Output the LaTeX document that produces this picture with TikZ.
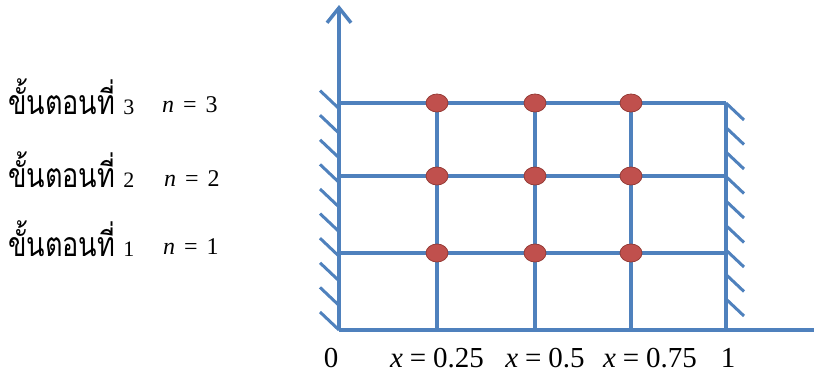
\documentclass[tikz,border=0pt]{standalone}
\usepackage{fontspec}
\setmainfont{Liberation Serif}
\newfontfamily\thaifont[Script=Thai]{Loma}
\usetikzlibrary{arrows.meta,shapes.geometric}
\definecolor{gridblue}{RGB}{79,129,189}
\definecolor{dotred}{RGB}{192,80,77}
\definecolor{dotedge}{RGB}{150,60,55}
\newcommand{\thaistep}[1]{\scalebox{1.04}[1.3]{\thaifont\fontsize{26}{30}\selectfont ขั้นตอนที่}\hspace{8pt}{\fontsize{22}{26}\selectfont #1}}
\newcommand{\eqlab}[3]{{\itshape #1}\hspace{#3}=\hspace{#3}#2}
\begin{document}
\begin{tikzpicture}[x=1pt,y=-1pt,
  gridline/.style={draw=gridblue,line width=3.5pt},
  hatchline/.style={draw=gridblue,line width=3pt},
  griddot/.style={ellipse,fill=dotred,draw=dotedge,line width=0.8pt,minimum width=22pt,minimum height=18pt,inner sep=0pt},
  steplabel/.style={anchor=base west,inner sep=0pt},
  nlabel/.style={anchor=base west,inner sep=0pt,font=\fontsize{24}{28}\selectfont},
  xlabel/.style={anchor=base,inner sep=0pt,font=\fontsize{29}{34}\selectfont}]
\useasboundingbox (0,0) rectangle (814,375);
% axes
\coordinate (O) at (339,330);
\coordinate (ytop) at (339,5);
\coordinate (xend) at (814,330);
\draw[gridline,-{Straight Barb[length=15pt,width=24pt,line width=3.5pt]}] (O) -- (ytop);
\draw[gridline] (O) -- (xend);
% grid
\foreach \r/\yy in {1/253,2/176,3/103}{
  \coordinate (L\r) at (339,\yy);
  \coordinate (R\r) at (726,\yy);
  \draw[gridline] (L\r) -- (R\r);
}
\foreach \c/\xx in {1/437,2/535,3/631,4/726}{
  \coordinate (B\c) at (\xx,330);
  \coordinate (T\c) at (\xx,103);
  \draw[gridline] (B\c) -- (T\c);
}
% walls
\foreach \i in {0,...,9}{
  \coordinate (hl\i) at (339,{330-24.6*\i});
  \draw[hatchline] (hl\i) -- ++(-19,-18);
}
\foreach \i in {0,...,8}{
  \coordinate (hr\i) at (726,{103+24.5*\i});
  \draw[hatchline] (hr\i) -- ++(18,17);
}
% dots
\foreach \c/\xx in {1/437,2/535,3/631}{
  \foreach \r/\yy in {1/253,2/176,3/103}{
    \node[griddot] (d\c\r) at (\xx,\yy) {};
  }
}
% left labels
\node[steplabel] (s3) at (8,114) {\thaistep{3}};
\node[steplabel] (s2) at (8,187) {\thaistep{2}};
\node[steplabel] (s1) at (8,256) {\thaistep{1}};
\node[nlabel] (n3) at (162,112) {\eqlab{n}{3}{9pt}};
\node[nlabel] (n2) at (164,186) {\eqlab{n}{2}{9pt}};
\node[nlabel] (n1) at (163,254) {\eqlab{n}{1}{9pt}};
% bottom labels
\node[xlabel] (x0) at (331,367) {0};
\node[xlabel] (x1) at (437,367) {\eqlab{x}{0.25}{7pt}};
\node[xlabel] (x2) at (545,367) {\eqlab{x}{0.5}{7pt}};
\node[xlabel] (x3) at (650,367) {\eqlab{x}{0.75}{7pt}};
\node[xlabel] (x4) at (728,367) {1};
\end{tikzpicture}
\end{document}
